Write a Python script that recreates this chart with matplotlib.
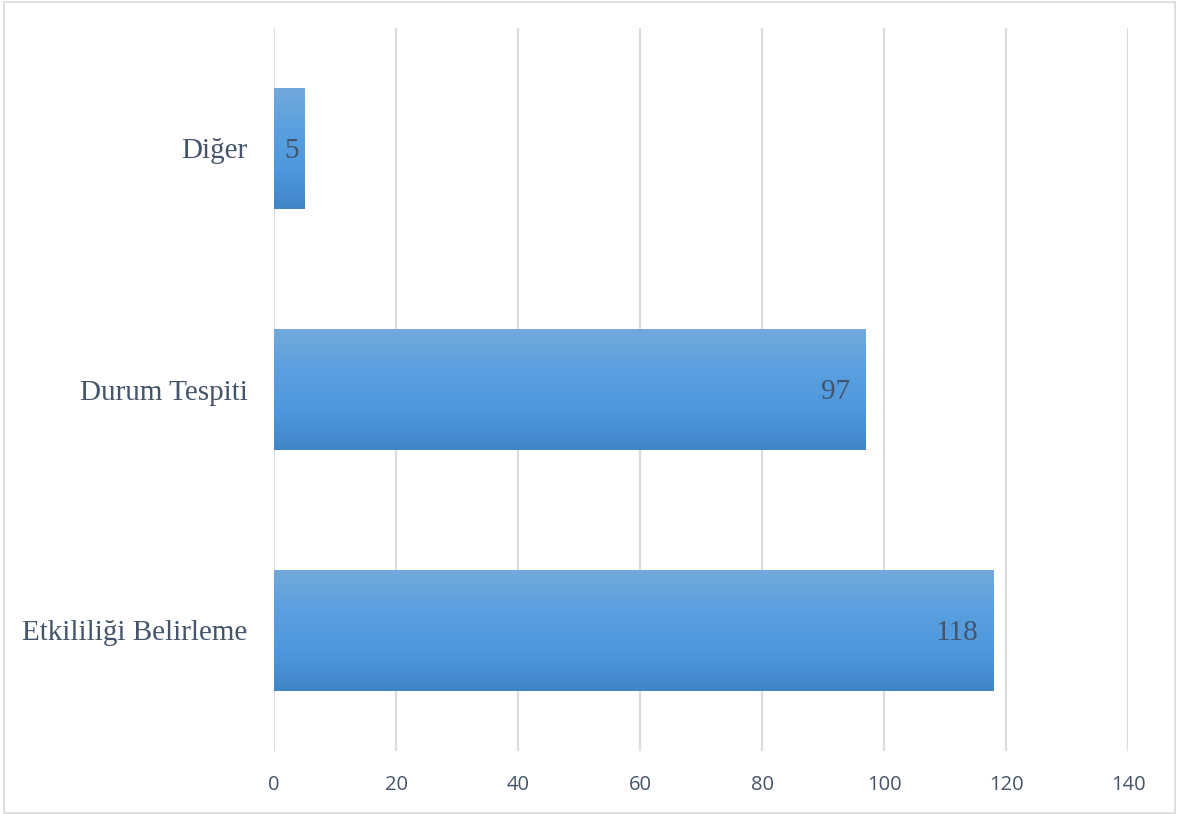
import matplotlib.pyplot as plt
import numpy as np
from matplotlib.colors import LinearSegmentedColormap
from matplotlib.patches import Rectangle

# data
categories = ["Etkililiği Belirleme", "Durum Tespiti", "Diğer"]
counts = [118, 97, 5]
x_ticks = [0, 20, 40, 60, 80, 100, 120, 140]

TEXT = "#44546a"
GRID = "#d9dde3"

W, H = 1180, 814
fig = plt.figure(figsize=(W / 100, H / 100), dpi=100)

# outer chart frame
fig.patches.append(Rectangle((4 / W, 1 / H), 1171 / W, 811 / H,
                             transform=fig.transFigure, fill=False,
                             edgecolor="#d9d9d9", linewidth=1.2))

ax = fig.add_axes([274 / W, 1 - 751 / H, (1128 - 274) / W, (751 - 28) / H])

for s in ax.spines.values():
    s.set_visible(False)

for t in x_ticks:
    ax.axvline(t, color=GRID, linewidth=1.6, zorder=0)

# vertical gradient for bars
grad = LinearSegmentedColormap.from_list(
    "bar", ["#3f86c8", "#4e98dd", "#5aa0e0", "#73a9dc"])
gimg = np.linspace(0, 1, 256).reshape(-1, 1)

bar_h = 0.5
ypos = np.arange(len(categories))
bars = ax.barh(ypos, counts, height=bar_h, color="none", edgecolor="none")
for b, v in zip(bars, counts):
    x0, y0 = b.get_x(), b.get_y()
    im = ax.imshow(gimg, cmap=grad, aspect="auto", origin="lower",
                   extent=[x0, x0 + b.get_width(), y0, y0 + b.get_height()],
                   zorder=2)
    im.set_clip_path(b)
    yc = y0 + bar_h / 2 - 0.012
    if v < 10:
        # narrow bar: label sits in the middle
        ax.text(v / 2 + 0.4, yc, str(v), ha="center", va="center",
                fontsize=21, family="Liberation Serif", color=TEXT, zorder=3)
    else:
        ax.text(v - 2.6, yc, str(v), ha="right", va="center",
                fontsize=21, family="Liberation Serif", color=TEXT, zorder=3)

ax.set_xlim(0, 140)
ax.set_ylim(-0.5, len(categories) - 0.5)

ax.set_yticks(ypos)
ax.set_yticklabels(categories, family="Liberation Serif", fontsize=21,
                   color=TEXT)
ax.tick_params(axis="y", length=0, pad=19)

ax.set_xticks(x_ticks)
ax.set_xticklabels([str(t) for t in x_ticks], family="Open Sans",
                   fontsize=14.5, color=TEXT)
ax.tick_params(axis="x", length=0, pad=17)

fig.savefig("out.png", dpi=100)
